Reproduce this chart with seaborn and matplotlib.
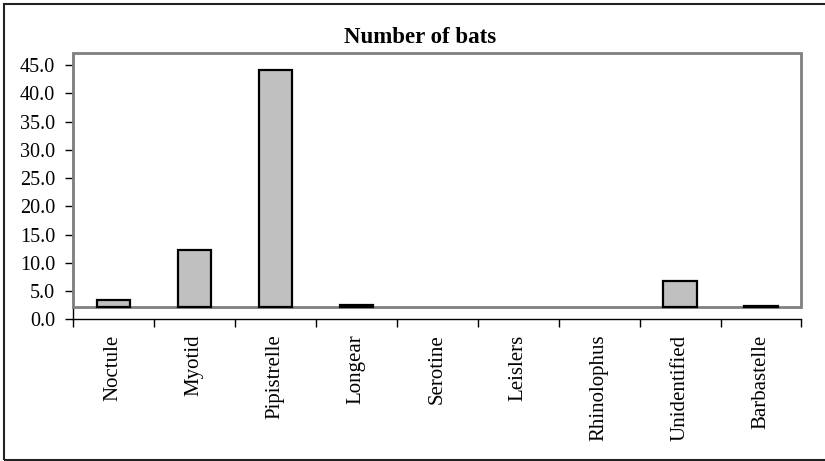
import numpy as np
import pandas as pd
import matplotlib
matplotlib.use("Agg")
import matplotlib.pyplot as plt
from matplotlib.patches import Rectangle
import seaborn as sns

# Data (values at bar tops)
species = ["Noctule", "Myotid", "Pipistrelle", "Longear", "Serotine",
           "Leislers", "Rhinolophus", "Unidentified", "Barbastelle"]
bats = [3.4, 12.3, 44.2, 2.6, 0.0, 0.0, 0.0, 6.8, 2.35]
y_ticks = [0, 5, 10, 15, 20, 25, 30, 35, 40, 45]
title = "Number of bats"
floor = 2.23     # the chart floor the columns stand on
y_max = 47.07

sns.set_theme(style="white")
plt.rcParams["font.family"] = ["Liberation Serif", "DejaVu Serif"]
plt.rcParams["text.color"] = "black"
plt.rcParams["xtick.color"] = "black"
plt.rcParams["ytick.color"] = "black"
plt.rcParams["xtick.labelcolor"] = "black"
plt.rcParams["ytick.labelcolor"] = "black"

vals = np.array(bats, dtype=float)
heights = np.where(vals > floor, vals - floor, np.nan)
df = pd.DataFrame({"species": species, "height": heights})

fig = plt.figure(figsize=(8.25, 4.61), dpi=100)
ax = fig.add_axes([72.7 / 825, 1 - 319.3 / 461, (801.5 - 72.7) / 825, (319.3 - 53.3) / 461])
ax.set_facecolor("white")

sns.barplot(data=df, x="species", y="height", order=species, ax=ax,
            color="#C0C0C0", saturation=1, width=0.41, bottom=floor,
            edgecolor="black", linewidth=1.6, zorder=3, errorbar=None)

ax.set_xlim(-0.5, len(species) - 0.5)
ax.set_ylim(0, y_max)

# plot-area frame (gray), from the floor up
ax.add_patch(Rectangle((-0.5, floor), len(species), y_max - floor,
                       facecolor="none", edgecolor="#808080", linewidth=2.0,
                       zorder=2.6, clip_on=False))

for s in ["top", "right"]:
    ax.spines[s].set_visible(False)
for s in ["left", "bottom"]:
    ax.spines[s].set_color("black")
    ax.spines[s].set_linewidth(1.0)

ax.set_yticks(y_ticks)
ax.set_yticklabels([f"{v:.1f}" for v in y_ticks], fontsize=14.5, color="black")
ax.tick_params(axis="y", which="major", direction="out", length=5.5, width=1.0,
               color="black", pad=7, left=True)

ax.set_xticks(range(len(species)))
ax.set_xticklabels(species, rotation=90, fontsize=15, color="black")
ax.tick_params(axis="x", which="major", length=0, pad=11)
ax.set_xticks(np.arange(-0.5, len(species)), minor=True)
ax.tick_params(axis="x", which="minor", direction="out", length=5.5, width=1.0,
               color="black", bottom=True)
ax.set_xlabel("")
ax.set_ylabel("")
ax.grid(False)

fig.text(420 / 825, 1 - 42.7 / 461, title, ha="center", va="baseline",
         fontsize=16.5, fontweight="bold", color="black")

# outer chart border
fig.patches.append(Rectangle((4 / 825, 1 - 459.5 / 461), 1.02, (459.5 - 4) / 461,
                             transform=fig.transFigure, facecolor="none",
                             edgecolor="#222222", linewidth=1.5))

fig.savefig("out.png", dpi=100)
